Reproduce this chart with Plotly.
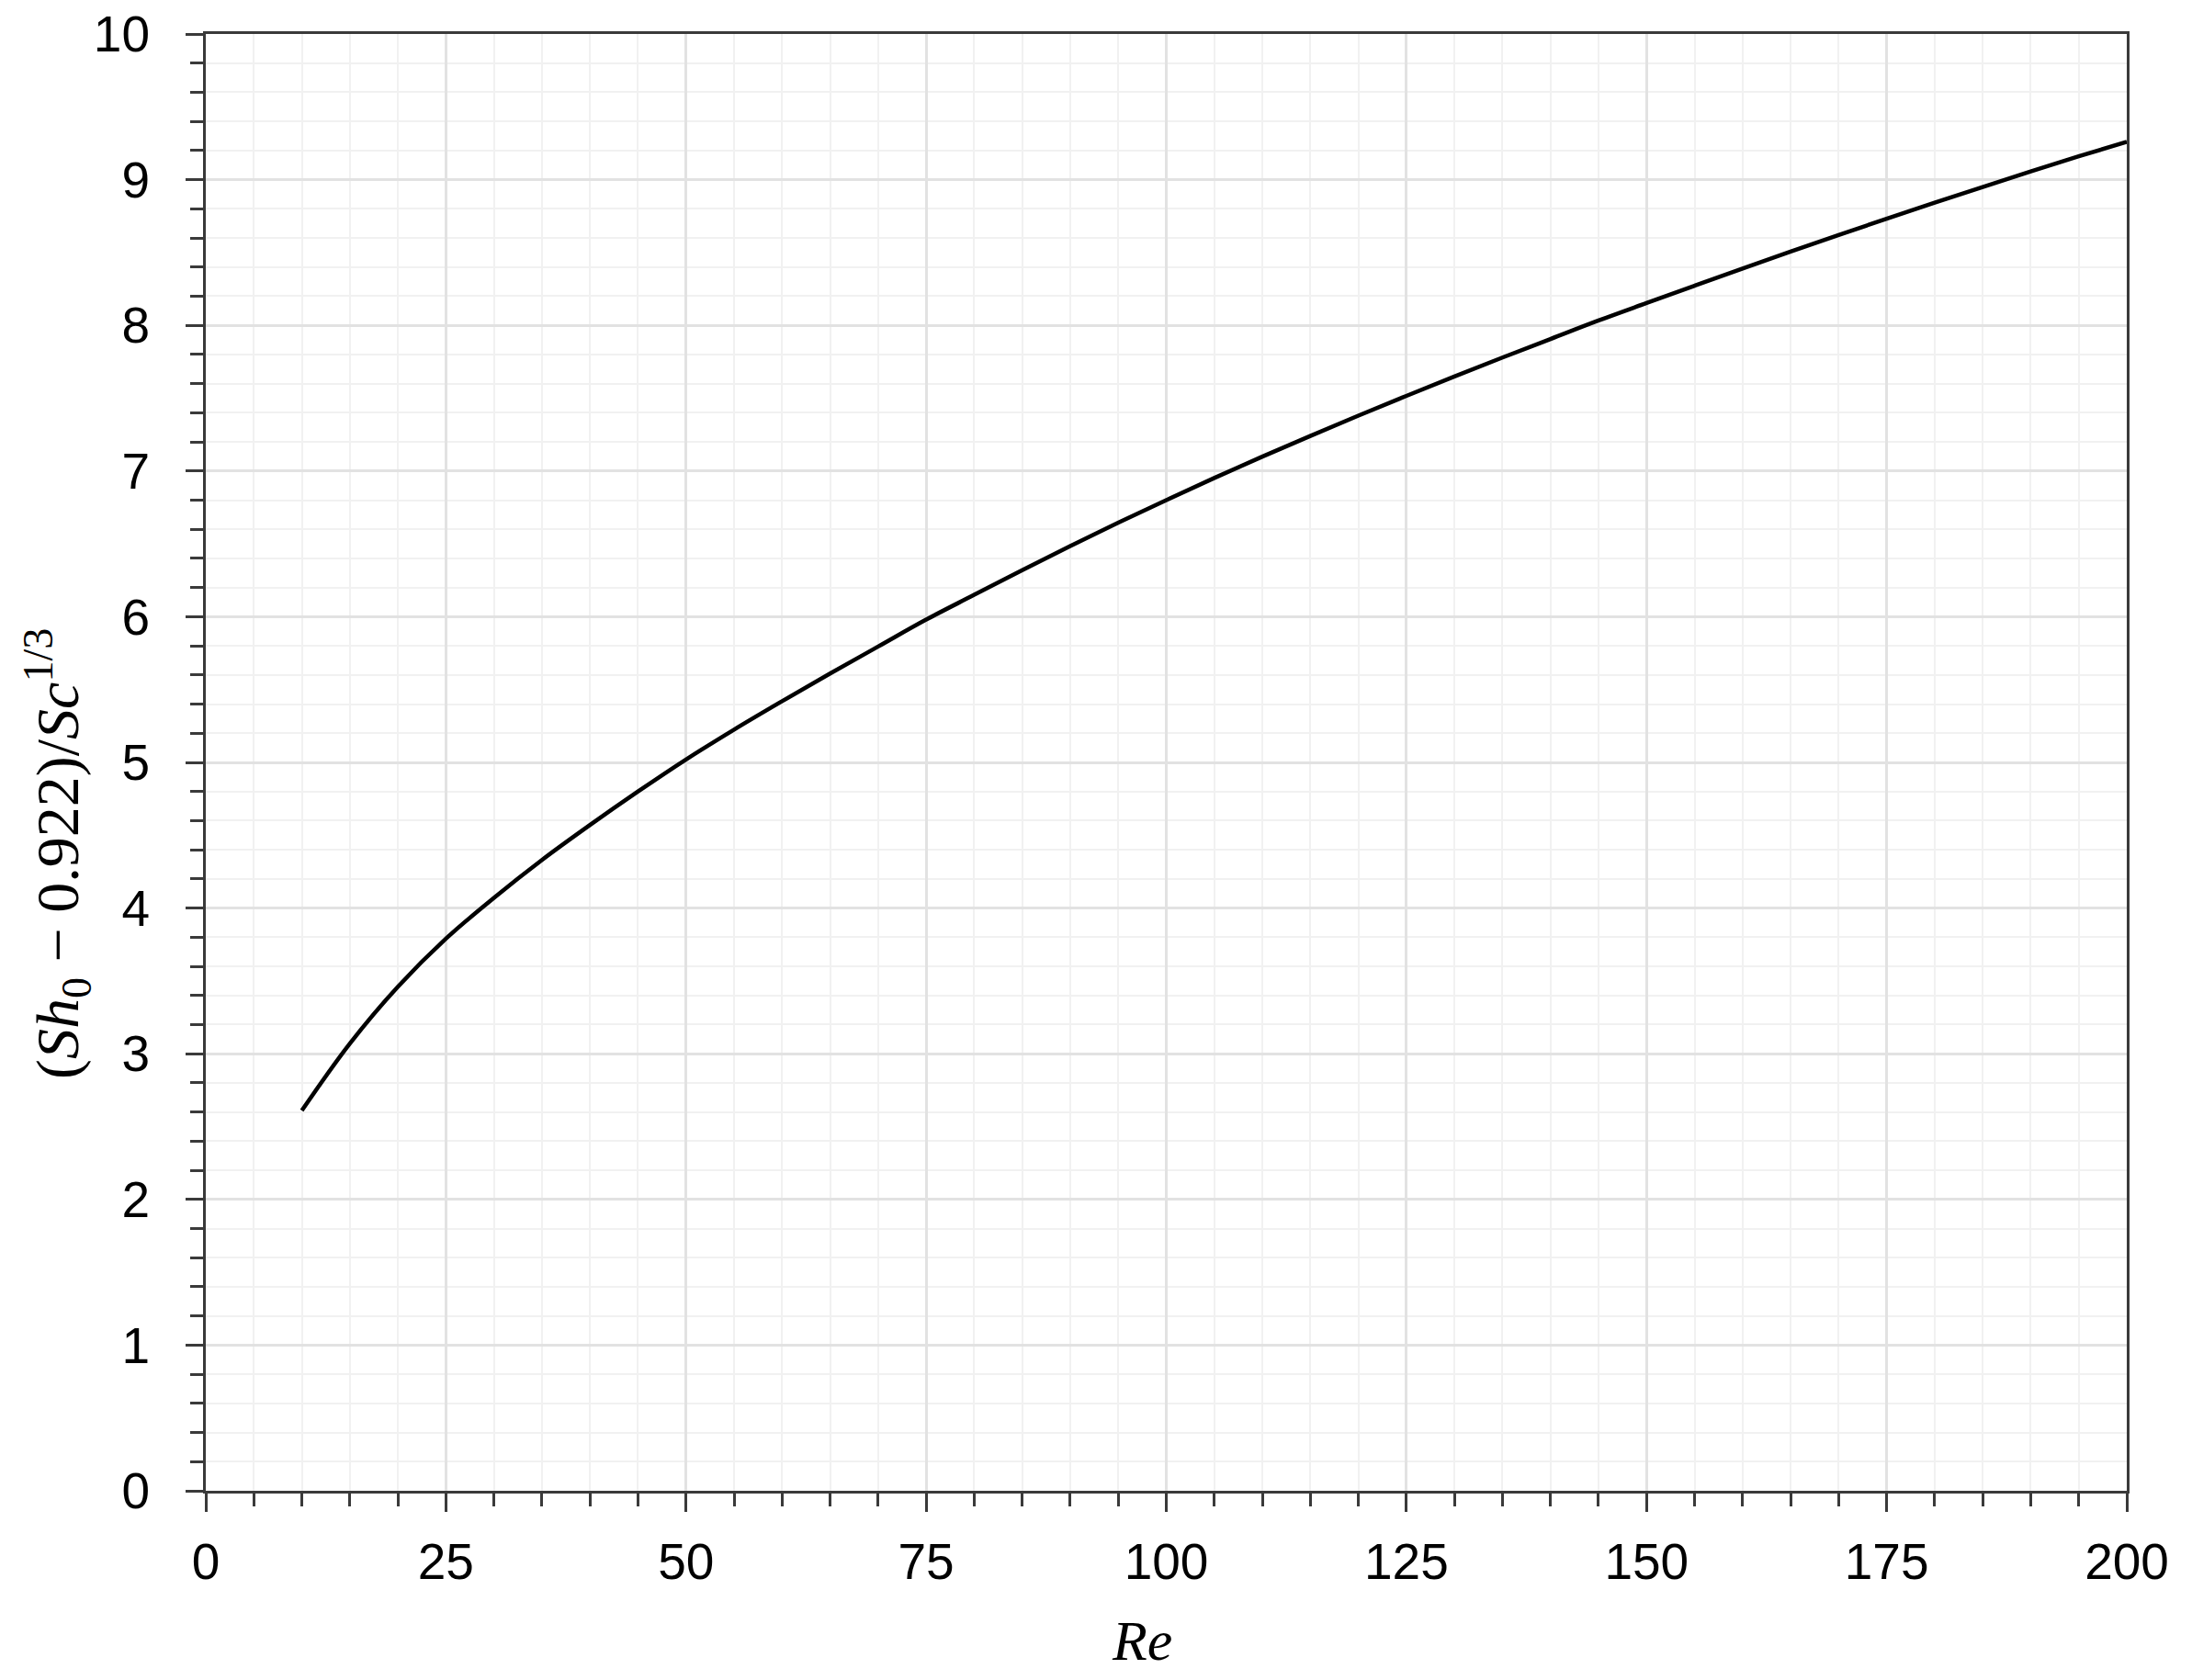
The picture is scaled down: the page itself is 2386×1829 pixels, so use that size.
import plotly.graph_objects as go

# Data
re_values = [10, 15, 20, 25, 30, 35, 40, 45, 50, 55, 60, 65, 70, 75, 80, 85, 90, 95, 100,
             105, 110, 115, 120, 125, 130, 135, 140, 145, 150, 155, 160, 165, 170, 175,
             180, 185, 190, 195, 200]
sh_values = [2.61, 3.07, 3.46, 3.79, 4.07, 4.33, 4.57, 4.80, 5.02, 5.225, 5.42, 5.61, 5.795,
             5.98, 6.15, 6.32, 6.485, 6.645, 6.80, 6.952, 7.099, 7.241, 7.38, 7.516, 7.649,
             7.779, 7.906, 8.033, 8.153, 8.272, 8.39, 8.506, 8.62, 8.732, 8.842, 8.95, 9.056,
             9.16, 9.26]

x_title = "<i>Re</i>"
y_title = "(<i>Sh</i><sub>0</sub> − 0.922)/<i>Sc</i><sup>1/3</sup>"

W, H = 2386, 1829
BODY = 8  # default page margin of the html body
PL, PR, PT, PB = 224, 2315, 37, 1623  # plot area in page pixels

fig = go.Figure()
fig.add_trace(go.Scatter(
    x=re_values, y=sh_values, mode="lines",
    line=dict(color="black", width=4.5, shape="spline", smoothing=1.0),
    showlegend=False, hoverinfo="skip",
))

axis_common = dict(
    showline=True, linecolor="#3a3a3a", linewidth=3, mirror=True,
    ticks="outside", tickwidth=3, tickcolor="#3a3a3a",
    tickfont=dict(family="Liberation Sans, Arial, sans-serif", size=55, color="black"),
    showgrid=True, gridcolor="#e2e2e2", gridwidth=2.5,
    zeroline=False, automargin=False, ticklabeloverflow="allow",
)

fig.update_xaxes(
    range=[0, 200], dtick=25, tick0=0, ticklen=20,
    ticklabelstandoff=7,
    minor=dict(dtick=5, ticklen=14, tickwidth=3, tickcolor="#3a3a3a", ticks="outside",
               showgrid=True, gridcolor="#f1f1f1", gridwidth=2),
    **axis_common,
)
fig.update_yaxes(
    range=[0, 10], dtick=1, tick0=0, ticklen=19,
    ticklabelstandoff=28,
    minor=dict(dtick=0.2, ticklen=14, tickwidth=3, tickcolor="#3a3a3a", ticks="outside",
               showgrid=True, gridcolor="#f1f1f1", gridwidth=2),
    **axis_common,
)

plot_w = PR - PL
plot_h = PB - PT

fig.add_annotation(
    text=x_title, xref="paper", yref="paper",
    x=(1243 - PL) / plot_w, y=(PB - 1786) / plot_h,
    xanchor="center", yanchor="middle", showarrow=False,
    font=dict(family="Liberation Serif, Times New Roman, serif", size=62, color="black"),
)
fig.add_annotation(
    text=y_title, xref="paper", yref="paper",
    x=(62 - PL) / plot_w, y=(PB - 930) / plot_h,
    xanchor="center", yanchor="middle", showarrow=False, textangle=-90,
    font=dict(family="Liberation Serif, Times New Roman, serif", size=66, color="black"),
)

fig.update_layout(
    width=W, height=H,
    margin=dict(l=PL - BODY, r=W + BODY - PR, t=PT - BODY, b=H + BODY - PB),
    paper_bgcolor="white", plot_bgcolor="white",
)

fig.write_html("out.html")
